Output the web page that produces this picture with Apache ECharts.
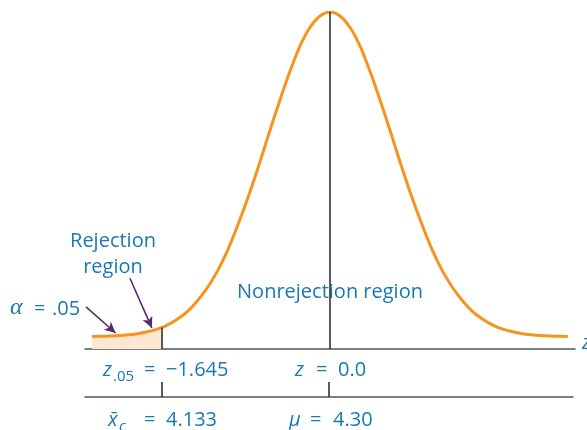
<!DOCTYPE html>
<html><head><meta charset="utf-8">
<script src="https://cdn.jsdelivr.net/npm/echarts@6/dist/echarts.min.js"></script>
<style>html,body{margin:0;padding:0;background:#fff}#c{width:587px;height:430px}</style>
</head><body><div id="c"></div>
<script>
// z values along the curve and the curve height
const zValues = [-2.33,-2.2,-2.1,-2.0,-1.9,-1.8,-1.7,-1.645,-1.6,-1.5,-1.4,-1.3,-1.2,-1.1,-1.0,-0.9,-0.8,-0.7,-0.6,-0.5,-0.4,-0.3,-0.2,-0.1,0,
  0.1,0.2,0.3,0.4,0.5,0.6,0.7,0.8,0.9,1.0,1.1,1.2,1.3,1.4,1.5,1.6,1.7,1.8,1.9,2.0,2.1,2.2,2.33];
const curveValues = [0.0148,0.0152,0.0158,0.0166,0.0179,0.0201,0.0233,0.0256,0.028,0.035,0.044,0.057,0.073,0.093,0.118,0.148,0.181,0.217,0.255,0.292,0.327,0.358,0.381,0.395,0.400,
  0.395,0.381,0.358,0.327,0.292,0.255,0.217,0.181,0.148,0.118,0.093,0.073,0.057,0.044,0.035,0.028,0.0233,0.0201,0.0179,0.0166,0.0158,0.0152,0.0148];
const criticalZ = -1.645;
const meanZ = 0;
const peakValue = 0.400;
const criticalValue = 0.0256;
// annotation arrows [fromZ, fromY, toZ, toY]
const arrowAlpha = [-2.39, 0.050, -2.10, 0.019];
const arrowRegion = [-1.96, 0.084, -1.745, 0.025];

const curve = zValues.map((z,i)=>[z,curveValues[i]]);
const tail = curve.filter(p=>p[0] <= criticalZ);

const blue = '#1a78b2';
const F = '"Open Sans", sans-serif';
// y given as baseline; converted to top using an approximate ascent
function txt(x,y,s,opt){
  opt = opt||{};
  const size = opt.size||20;
  const asc = opt.asc!=null ? opt.asc : Math.round(size*0.75);
  return {type:'text', x:x, y:y-asc, silent:true, style:{text:s, fill:blue,
    font:(opt.style||'normal')+' '+size+'px '+(opt.family||F),
    textAlign:opt.align||'left', textVerticalAlign:'top'}};
}

const chart = echarts.init(document.getElementById('c'), null, {renderer:'canvas'});
chart.setOption({
  animation:false,
  grid:[{left:85,right:12,top:12,bottom:81},{left:85,right:14,top:382,bottom:33}],
  xAxis:[
    {type:'value',gridIndex:0,min:-2.4,max:2.4,axisLine:{show:true,lineStyle:{color:'#555',width:1.6}},axisTick:{show:false},axisLabel:{show:false},splitLine:{show:false}},
    {type:'value',gridIndex:1,min:-2.4,max:2.4,axisLine:{show:true,lineStyle:{color:'#555',width:1.6}},axisTick:{show:false},axisLabel:{show:false},splitLine:{show:false}}
  ],
  yAxis:[
    {type:'value',gridIndex:0,min:0,max:0.4,show:false},
    {type:'value',gridIndex:1,min:0,max:1,show:false}
  ],
  series:[
    {type:'line',data:tail,symbol:'none',smooth:0.3,lineStyle:{width:0},areaStyle:{color:'#fde7d3',opacity:1},z:1,silent:true},
    {type:'line',data:[],symbol:'none',z:2,silent:true,
      markLine:{silent:true,symbol:'none',label:{show:false},lineStyle:{color:'#333',width:1.6,type:'solid'},animation:false,
        data:[[{coord:[criticalZ,0]},{coord:[criticalZ,criticalValue]}],[{coord:[meanZ,0]},{coord:[meanZ,peakValue]}]]}},
    {type:'line',data:curve,symbol:'none',smooth:0.3,lineStyle:{color:'#f7931e',width:3},z:3,silent:true},
    {type:'line',data:[],symbol:'none',z:4,silent:true,
      markLine:{silent:true,symbol:['none','arrow'],symbolSize:[8,11],label:{show:false},lineStyle:{color:'#5b2a6e',width:1.6,type:'solid'},animation:false,
        data:[[{coord:[arrowAlpha[0],arrowAlpha[1]]},{coord:[arrowAlpha[2],arrowAlpha[3]]}],
              [{coord:[arrowRegion[0],arrowRegion[1]]},{coord:[arrowRegion[2],arrowRegion[3]]}]]}},
    {type:'line',xAxisIndex:1,yAxisIndex:1,data:[],symbol:'none',silent:true,
      markLine:{silent:true,symbol:'none',label:{show:false},lineStyle:{color:'#333',width:1.6,type:'solid'},animation:false,
        data:[{xAxis:criticalZ},{xAxis:meanZ}]}}
  ],
  graphic:[
    txt(113,246,'Rejection',{align:'center'}),
    txt(113,272,'region',{align:'center'}),
    txt(10,314,'α',{style:'italic',size:24,family:'"Liberation Serif", serif'}),
    txt(34,314,'=',{}),
    txt(52,314,'.05',{}),
    txt(330,297,'Nonrejection region',{align:'center'}),
    txt(582,348,'z',{style:'italic'}),
    txt(103,375,'z',{style:'italic'}),
    txt(113,380,'.05',{size:15}),
    txt(144,375,'=',{}),
    txt(166,375,'−1.645',{}),
    txt(295,375,'z',{style:'italic'}),
    txt(316,375,'=',{}),
    txt(338,375,'0.0',{}),
    txt(108,425,'x̄',{style:'italic'}),
    txt(119,430,'c',{style:'italic',size:15}),
    txt(144,425,'=',{}),
    txt(166,425,'4.133',{}),
    txt(289,425,'μ',{style:'italic'}),
    txt(310,425,'=',{}),
    txt(333,425,'4.30',{})
  ]
});
</script></body></html>
